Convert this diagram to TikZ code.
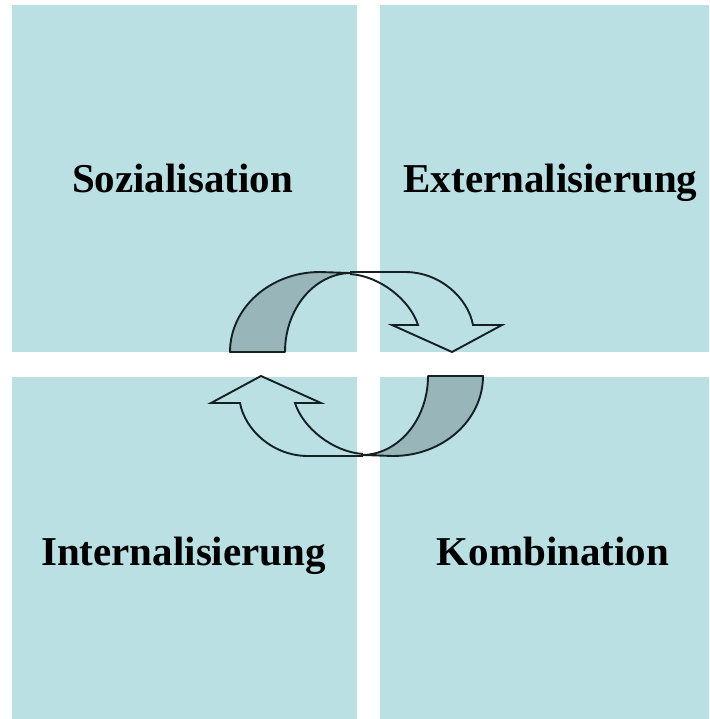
\documentclass[tikz,border=0pt]{standalone}
\usepackage{fontspec}
\setmainfont{Liberation Serif}
\begin{document}
\begin{tikzpicture}[x=1pt,y=-1pt,
  panel/.style={fill=panelblue},
  label/.style={anchor=base,font=\fontsize{41}{41}\selectfont\bfseries,text=black,inner sep=0pt},
  backface/.style={fill=arrowgray,draw=edge,line width=1.9pt,line join=round},
  frontface/.style={draw=edge,line width=1.9pt,line join=miter}]
\definecolor{panelblue}{RGB}{187,224,228}
\definecolor{arrowgray}{RGB}{152,181,186}
\definecolor{edge}{RGB}{20,32,34}
\useasboundingbox (0,0) rectangle (709,719);
\fill[white] (0,0) rectangle (709,719);

% four quadrants
\fill[panel] (12,5) rectangle (357,352);
\fill[panel] (380,5) rectangle (709,352);
\fill[panel] (12,377) rectangle (357,719);
\fill[panel] (380,377) rectangle (709,719);

\node[label] (soz) at (182.5,193) {Sozialisation};
\node[label] (ext) at (550.5,193) {Externalisierung};
\node[label] (int) at (183.5,565) {Internalisierung};
\node[label] (kom) at (553,565) {Kombination};

% upper curved arrow; the lower one is the same shape turned by 180 degrees
\foreach \ang in {0,180}{
\begin{scope}[rotate around={\ang:(356.5,364)}]
  \path[backface] (230,352) .. controls (230,308) and (270,272) .. (320,272)
      -- (350,273) .. controls (314,274) and (285,309) .. (285,352) -- cycle;
  \path[frontface] (350,272) -- (405,272)
      .. controls (440,272) and (468,298) .. (473,325)
      -- (502,325) -- (452,352) -- (392,325) -- (418,325)
      .. controls (410,300) and (380,276) .. (350,274);
\end{scope}
}
\end{tikzpicture}
\end{document}
